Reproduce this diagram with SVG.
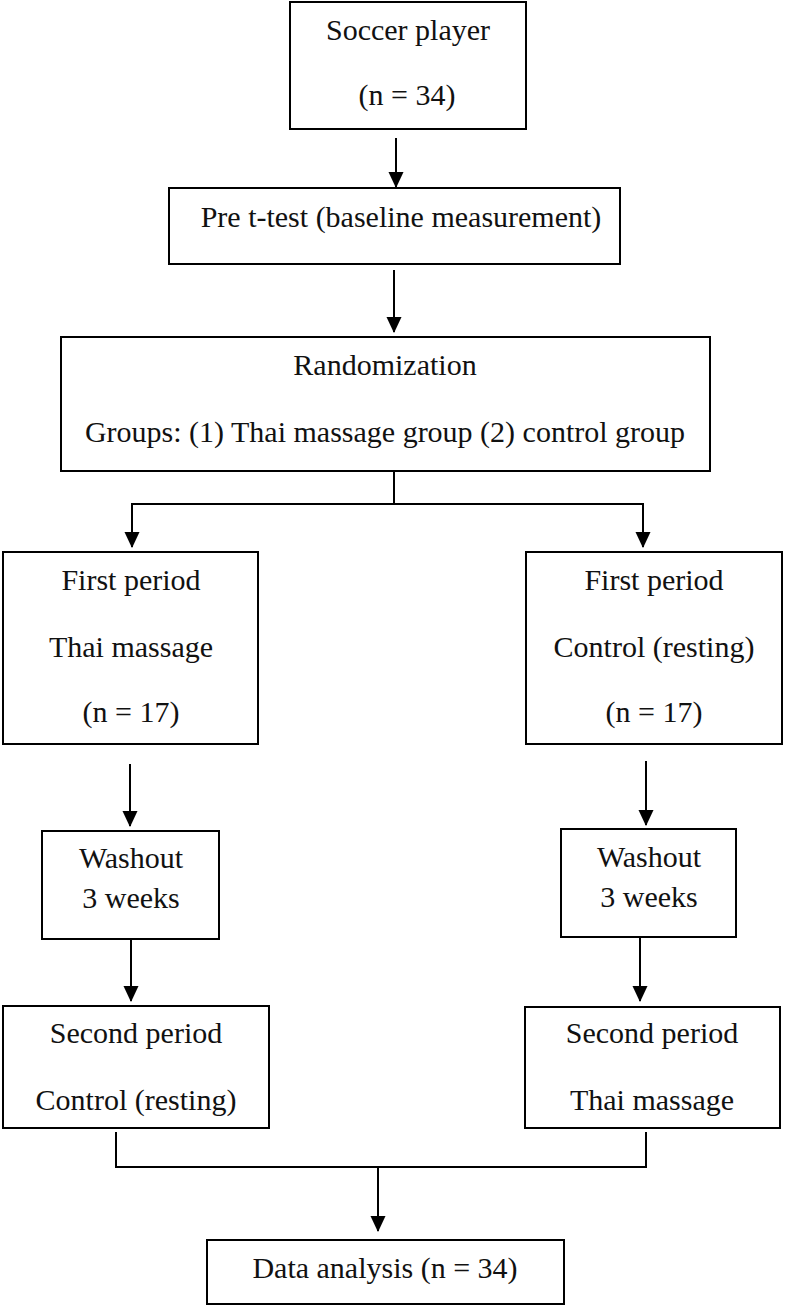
<svg xmlns="http://www.w3.org/2000/svg" width="787" height="1311" viewBox="0 0 787 1311">
<style>
.box{fill:#fff;stroke:#000;stroke-width:2}
.t{font-family:"Liberation Serif","Times New Roman",serif;font-size:30px;fill:#111;text-anchor:middle}
.c{fill:none;stroke:#000;stroke-width:2}
</style>
<defs>
<marker id="ah" markerUnits="userSpaceOnUse" markerWidth="16" markerHeight="17" viewBox="0 0 17 16" refX="16" refY="8" orient="auto">
<path d="M0,0 L17,8 L0,16 z" fill="#000"/>
</marker>
</defs>
<rect width="787" height="1311" fill="#fff"/>
<g id="connectors">
<path class="c" d="M396,138 L396,187" marker-end="url(#ah)"/>
<path class="c" d="M394,270 L394,332" marker-end="url(#ah)"/>
<path class="c" d="M394,471 L394,504"/>
<path class="c" d="M132,520 L132,504 L643,504 L643,520"/>
<path class="c" d="M132,520 L132,547" marker-end="url(#ah)"/>
<path class="c" d="M643,520 L643,547" marker-end="url(#ah)"/>
<path class="c" d="M130,764 L130,826" marker-end="url(#ah)"/>
<path class="c" d="M646,761 L646,825" marker-end="url(#ah)"/>
<path class="c" d="M131,939 L131,1001" marker-end="url(#ah)"/>
<path class="c" d="M640,937 L640,1001" marker-end="url(#ah)"/>
<path class="c" d="M116,1132 L116,1167 L646,1167 L646,1132"/>
<path class="c" d="M378,1167 L378,1231" marker-end="url(#ah)"/>
</g>
<g id="soccer">
<rect class="box" x="290" y="2" width="236" height="127"/>
<text class="t" x="408" y="40">Soccer player</text>
<text class="t" x="407" y="105">(n = 34)</text>
</g>
<g id="pretest">
<rect class="box" x="169" y="188" width="451" height="76"/>
<text class="t" x="401" y="227">Pre t-test (baseline measurement)</text>
</g>
<g id="randomization">
<rect class="box" x="61" y="337" width="649" height="134"/>
<text class="t" x="385" y="375">Randomization</text>
<text class="t" x="385" y="442">Groups: (1) Thai massage group (2) control group</text>
</g>
<g id="first-left">
<rect class="box" x="3" y="552" width="255" height="192"/>
<text class="t" x="131" y="590">First period</text>
<text class="t" x="131" y="657">Thai massage</text>
<text class="t" x="131" y="722">(n = 17)</text>
</g>
<g id="first-right">
<rect class="box" x="526" y="552" width="256" height="192"/>
<text class="t" x="654" y="590">First period</text>
<text class="t" x="654" y="657">Control (resting)</text>
<text class="t" x="654" y="722">(n = 17)</text>
</g>
<g id="washout-left">
<rect class="box" x="42" y="831" width="177" height="108"/>
<text class="t" x="131" y="868">Washout</text>
<text class="t" x="131" y="908">3 weeks</text>
</g>
<g id="washout-right">
<rect class="box" x="561" y="829" width="175" height="108"/>
<text class="t" x="649" y="867">Washout</text>
<text class="t" x="649" y="907">3 weeks</text>
</g>
<g id="second-left">
<rect class="box" x="3" y="1006" width="266" height="122"/>
<text class="t" x="136" y="1043">Second period</text>
<text class="t" x="136" y="1110">Control (resting)</text>
</g>
<g id="second-right">
<rect class="box" x="525" y="1007" width="255" height="121"/>
<text class="t" x="652" y="1043">Second period</text>
<text class="t" x="652" y="1110">Thai massage</text>
</g>
<g id="analysis">
<rect class="box" x="207" y="1240" width="357" height="64"/>
<text class="t" x="385" y="1278">Data analysis (n = 34)</text>
</g>
</svg>
